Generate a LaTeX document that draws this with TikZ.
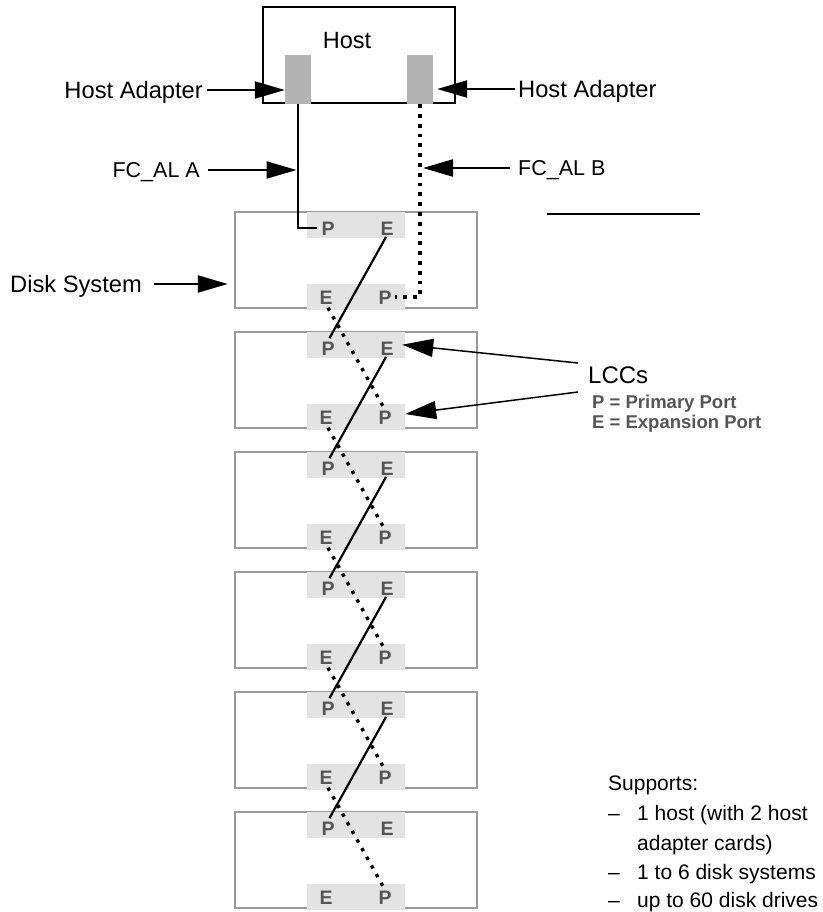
\documentclass[tikz,border=0pt]{standalone}
\usepackage{fontspec}
\setmainfont{Liberation Sans}
\usetikzlibrary{arrows.meta,calc}
\definecolor{boxgray}{HTML}{999999}
\definecolor{barfill}{HTML}{E3E3E3}
\definecolor{adfill}{HTML}{B3B3B3}
\definecolor{lettergray}{HTML}{555555}
\begin{document}
\begin{tikzpicture}[x=1pt,y=-1pt,
  lbl/.style={font=\fontsize{23.7}{28}\selectfont, inner sep=0pt, text height=17pt, text depth=0pt},
  sup/.style={font=\fontsize{21}{25}\selectfont, inner sep=0pt, text height=15pt, text depth=0pt, anchor=west},
  legend/.style={font=\fontsize{18.5}{22}\selectfont\bfseries, text=lettergray, inner sep=0pt, text height=13pt, text depth=0pt, anchor=west},
  hostbox/.style={draw, line width=2.3pt, minimum width=192pt, minimum height=96pt, inner sep=0pt},
  adapter/.style={fill=adfill, minimum width=26pt, minimum height=49pt, inner sep=0pt},
  diskbox/.style={draw=boxgray, line width=2.5pt, minimum width=242pt, minimum height=96pt, inner sep=0pt},
  lccbar/.style={fill=barfill, minimum width=98pt, minimum height=26pt, inner sep=0pt},
  port/.style={font=\fontsize{19.5}{22}\selectfont\bfseries, text=lettergray, inner sep=0pt, text height=14pt, text depth=0pt},
  arr/.style={line width=2.2pt, -{Triangle[length=30pt,width=17pt]}},
  thinarr/.style={line width=1.5pt, -{Triangle[length=31pt,width=18pt]}},
  loopA/.style={line width=2.6pt},
  loopB/.style={line width=3.8pt, dash pattern=on 3.8pt off 6pt},
  diagA/.style={line width=2.2pt},
  diagB/.style={line width=3.4pt, dash pattern=on 3.4pt off 6.5pt}
]
\useasboundingbox (0,0) rectangle (822,912);

% Host
\node[hostbox] (host) at (359,55) {};
\node[lbl, font=\fontsize{23.5}{28}\selectfont] (hostlbl) at (347,40) {Host};
\node[adapter] (adA) at (298,79.5) {};
\node[adapter] (adB) at (420,79.5) {};

% Disk systems
\foreach \i in {0,...,5}{
  \node[diskbox] (d\i) at (356,{260+120*\i}) {};
  \node[lccbar] (tb\i) at (356,{225+120*\i}) {};
  \node[lccbar] (bb\i) at (356,{297+120*\i}) {};
  \node[port] (pt\i) at (328,{228+120*\i}) {P};
  \node[port] (et\i) at (387,{228+120*\i}) {E};
  \node[port] (eb\i) at (326,{297+120*\i}) {E};
  \node[port] (pb\i) at (385,{297+120*\i}) {P};
}

% Loops from host adapters
\draw[loopA] (adA.south) |- ([xshift=-4pt]pt0.west);
\draw[loopB] (adB.south) |- ([xshift=3pt]pb0.east);

% Daisy chain
\foreach \i [evaluate=\i as \j using int(\i+1)] in {0,...,4}{
  \draw[diagA, shorten <=2pt, shorten >=3pt] (et\i.south) -- (pt\j.north);
  \draw[diagB, shorten <=4pt, shorten >=3pt] (eb\i.south) -- (pb\j.north);
}

% Labels
\node[lbl, anchor=east] (hal) at (203,90) {Host Adapter};
\draw[arr] ([xshift=4pt]hal.east) -- (hal.east -| adA.west);
\node[lbl, anchor=west] (har) at (518,89) {Host Adapter};
\draw[arr, shorten >=4pt] ([xshift=-3pt]har.west) -- (har.west -| adB.east);

\node[lbl, anchor=east, font=\fontsize{21.5}{26}\selectfont, text height=15.5pt] (fca) at (200,170) {FC\_AL A};
\draw[arr, shorten >=1.5pt] ([xshift=8pt]fca.east) -- (fca.east -| adA.south);
\node[lbl, anchor=west, font=\fontsize{21.5}{26}\selectfont, text height=15.5pt] (fcb) at (518,168) {FC\_AL B};
\draw[arr, shorten >=3pt] ([xshift=-8pt]fcb.west) -- (fcb.west -| adB.south);

\node[lbl, anchor=west] (ds) at (10,284) {Disk System};
\draw[arr, shorten >=6pt] ([xshift=12pt]ds.east) -- (ds.east -| d0.west);

% LCC annotation
\node[lbl, anchor=west, font=\fontsize{24}{28}\selectfont, text height=17pt] (lcc) at (588,375) {LCCs};
\coordinate (lccA) at (578,363);
\coordinate (lccB) at (578,392);
\draw[thinarr, shorten >=-3pt] (lccA) -- (tb1.east);
\draw[thinarr] (lccB) -- ([yshift=3pt]bb1.east);
\node[legend] (lgP) at (592,402) {P = Primary Port};
\node[legend] (lgE) at (592,422) {E = Expansion Port};

% Stray rule
\coordinate (ruleL) at (547,214);
\coordinate (ruleR) at (700,214);
\draw[line width=2.3pt] (ruleL) -- (ruleR);

% Supports
\node[sup] (s0) at (608,783) {Supports:};
\node[sup] (s1d) at (608,813) {–};
\node[sup] (s1) at (637,813) {1 host (with 2 host};
\node[sup] (s2) at (637,843) {adapter cards)};
\node[sup] (s3d) at (608,872) {–};
\node[sup] (s3) at (637,872) {1 to 6 disk systems};
\node[sup] (s4d) at (608,900) {–};
\node[sup] (s4) at (637,900) {up to 60 disk drives};
\end{tikzpicture}
\end{document}
